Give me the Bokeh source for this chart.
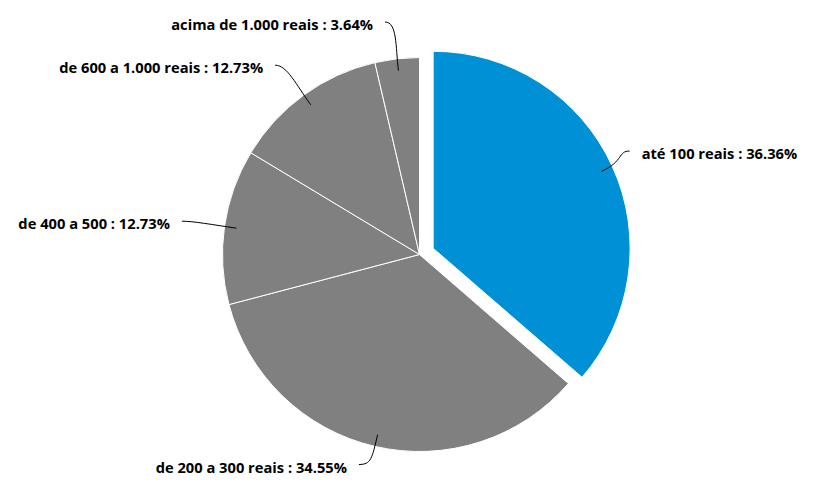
import math
from bokeh.plotting import figure
from bokeh.models import Range1d
from bokeh.core.properties import value
from bokeh.embed import file_html
from bokeh.resources import INLINE

categories = ["até 100 reais", "de 200 a 300 reais", "de 400 a 500",
              "de 600 a 1.000 reais", "acima de 1.000 reais"]
counts = [20, 19, 7, 7, 2]
colors = ["#0090D6", "#808080", "#808080", "#808080", "#808080"]
exploded = [True, False, False, False, False]

W, H = 798, 481
def Y(sy):
    return 497 - sy

p = figure(width=W, height=H, output_backend="svg", toolbar_location=None,
           x_range=Range1d(0, W), y_range=Range1d(Y(H), Y(0)),
           min_border=0, outline_line_color=None)
p.axis.visible = False
p.grid.visible = False
p.background_fill_color = "white"

cx, cy = 419, Y(254)
R = 197
explode = 15
total = sum(counts)

cum = 0.0
for cat, v, col, ex in zip(categories, counts, colors, exploded):
    frac = v / total
    a0 = cum * 2 * math.pi
    a1 = (cum + frac) * 2 * math.pi
    mid = (a0 + a1) / 2
    cum += frac
    dx, dy = math.sin(mid), math.cos(mid)
    ox = cx + (explode * dx if ex else 0)
    oy = cy + (explode * dy if ex else 0)
    p.wedge(x=[ox], y=[oy], radius=R,
            start_angle=math.pi / 2 - a0, end_angle=math.pi / 2 - a1,
            direction="clock", fill_color=col, line_color="white", line_width=1)
    # leader line
    side = 1 if dx >= 0 else -1
    sx0, sy0 = ox + (R - 12) * dx, oy + (R - 12) * dy
    rx = 216 if side > 0 else 232
    ex1 = ox + rx * dx + (0 if side > 0 else -8)
    ey1 = max(oy + 234 * dy, Y(464))
    c0x, c0y = ox + 210 * dx, oy + 210 * dy
    c1x, c1y = ex1 - side * 12, ey1
    p.bezier(x0=[sx0], y0=[sy0], x1=[ex1], y1=[ey1], cx0=[c0x], cy0=[c0y],
             cx1=[c1x], cy1=[c1y], line_color="#000000", line_width=1)
    pct = 100 * frac
    p.text(x=[ex1 + side * 12], y=[ey1 - 2], text=[f"{cat} : {pct:.2f}%"],
           text_font=value("Open Sans"), text_font_style="bold",
           text_font_size="14.7px", text_color="#000000",
           text_align="left" if side > 0 else "right", text_baseline="middle")

open("out.html", "w").write(file_html(p, INLINE))
